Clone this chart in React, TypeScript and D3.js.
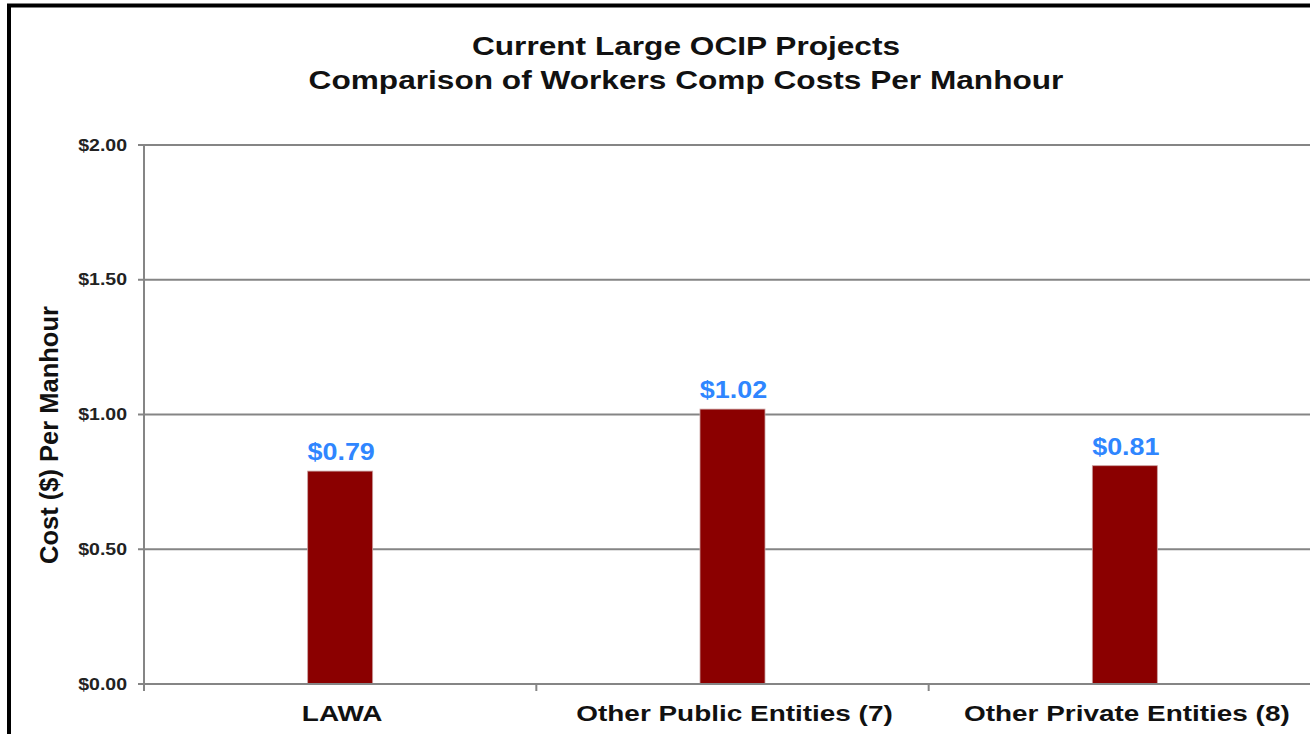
import React from "react";
import * as d3 from "d3";

const categories = ["LAWA", "Other Public Entities (7)", "Other Private Entities (8)"];
const values = [0.79, 1.02, 0.81];
const yTicks = [0, 0.5, 1.0, 1.5, 2.0];
const titleLines = ["Current Large OCIP Projects", "Comparison of Workers Comp Costs Per Manhour"];
const yAxisTitle = "Cost ($) Per Manhour";

const W = 1310;
const H = 734;
const plotLeft = 144;
const plotRight = 1321;
const plotTop = 145;
const plotBottom = 684;
const FONT = "Arial, 'Liberation Sans', Helvetica, sans-serif";
const GRID = "#858585";

function SText({ x, y, sx, anchor, size, fill, children }: any) {
  return (
    <text
      transform={`translate(${x},${y}) scale(${sx},1)`}
      textAnchor={anchor}
      fontSize={size}
      fontWeight="bold"
      fontFamily={FONT}
      fill={fill}
    >
      {children}
    </text>
  );
}

export default function App() {
  const x = d3.scaleBand<string>().domain(categories).range([plotLeft, plotRight]).padding(0);
  const y = d3.scaleLinear().domain([0, 2]).range([plotBottom, plotTop]);
  const barW = 65;
  const fmt = (v: number) => "$" + d3.format(".2f")(v);

  return (
    <svg
      width={W}
      height={H}
      style={{ position: "absolute", left: 0, top: 0, background: "#fff" }}
    >
      <rect x={0} y={0} width={W} height={H} fill="#fff" />
      {/* frame */}
      <line x1={9} y1={4} x2={9} y2={H} stroke="#000" strokeWidth={4} />
      <line x1={7} y1={5.5} x2={W} y2={5.5} stroke="#000" strokeWidth={4} />

      {/* title */}
      <SText x={686} y={55} sx={1.24} anchor="middle" size={25.5} fill="#111">
        {titleLines[0]}
      </SText>
      <SText x={686} y={89} sx={1.24} anchor="middle" size={25.5} fill="#111">
        {titleLines[1]}
      </SText>

      {/* gridlines & y ticks */}
      {yTicks.map((t) => (
        <g key={t}>
          {t > 0 && (
            <line x1={plotLeft} x2={W} y1={y(t)} y2={y(t)} stroke={GRID} strokeWidth={2} />
          )}
          <line x1={138} x2={plotLeft} y1={y(t)} y2={y(t)} stroke={GRID} strokeWidth={2} />
          <SText x={127} y={y(t) + 5.5} sx={1.22} anchor="end" size={16} fill="#222">
            {fmt(t)}
          </SText>
        </g>
      ))}

      {/* y axis title */}
      <text
        transform={`translate(58,${435}) rotate(-90)`}
        textAnchor="middle"
        fontSize={25.5}
        fontWeight="bold"
        fontFamily={FONT}
        fill="#111"
      >
        {yAxisTitle}
      </text>

      {/* bars */}
      {categories.map((c, i) => {
        const cx = (x(c) as number) + x.bandwidth() / 2;
        return (
          <g key={c}>
            <rect
              x={cx - barW / 2}
              y={y(values[i])}
              width={barW}
              height={plotBottom - y(values[i])}
              fill="#8B0000"
              stroke="#c9a0a0"
              strokeWidth={0.8}
            />
            <SText x={cx + 1} y={y(values[i]) - 11} sx={1.17} anchor="middle" size={23} fill="#2f86ff">
              {fmt(values[i])}
            </SText>
            <SText x={cx + 2} y={721} sx={1.27} anchor="middle" size={22} fill="#111">
              {c}
            </SText>
          </g>
        );
      })}

      {/* axes */}
      <line x1={plotLeft} x2={plotLeft} y1={plotTop} y2={691} stroke={GRID} strokeWidth={2} />
      <line x1={plotLeft} x2={W} y1={plotBottom} y2={plotBottom} stroke={GRID} strokeWidth={2} />
      {categories.slice(1).map((c) => (
        <line
          key={c}
          x1={x(c) as number}
          x2={x(c) as number}
          y1={plotBottom}
          y2={691}
          stroke={GRID}
          strokeWidth={2}
        />
      ))}
    </svg>
  );
}
